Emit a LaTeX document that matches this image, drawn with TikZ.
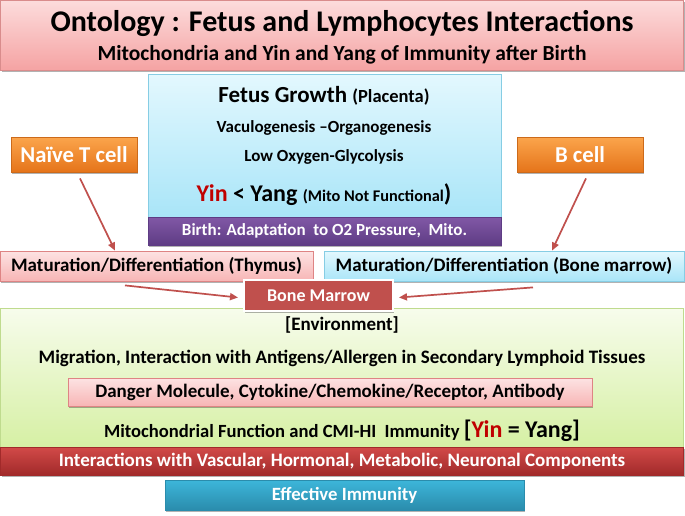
\documentclass[tikz,border=0pt]{standalone}
\usepackage{fontspec}
\setmainfont{Carlito}
\usetikzlibrary{arrows.meta,shadows}
\definecolor{titletop}{HTML}{FCDCDC}
\definecolor{titlebot}{HTML}{F5A3A3}
\definecolor{titleedge}{HTML}{D98C8C}
\definecolor{bluetop}{HTML}{E3F8FE}
\definecolor{bluebot}{HTML}{A9E5F8}
\definecolor{blueedge}{HTML}{86CDE4}
\definecolor{purtop}{HTML}{8158A6}
\definecolor{purbot}{HTML}{5E3C84}
\definecolor{orgtop}{HTML}{FBA54C}
\definecolor{orgbot}{HTML}{E5741A}
\definecolor{orgedge}{HTML}{CC6A1A}
\definecolor{pinktop}{HTML}{FDE3E3}
\definecolor{pinkbot}{HTML}{F7B5B5}
\definecolor{pinkedge}{HTML}{DE8484}
\definecolor{bmred}{HTML}{C0504D}
\definecolor{greentop}{HTML}{F7FCEC}
\definecolor{greenbot}{HTML}{D6F0A4}
\definecolor{greenedge}{HTML}{BFDB8E}
\definecolor{redtop}{HTML}{D24A48}
\definecolor{redbot}{HTML}{A12A2A}
\definecolor{effTop}{HTML}{3DB6DA}
\definecolor{effBot}{HTML}{2A8CAC}
\definecolor{yinred}{HTML}{C00000}
\definecolor{arrowred}{HTML}{C0504D}
\newcommand{\fsz}[1]{\fontsize{#1}{#1}\selectfont}
\begin{document}
\begin{tikzpicture}[x=1pt,y=-1pt,
  boxbase/.style={draw, line width=0.8pt, inner sep=0pt, font=\bfseries},
  shad/.style={drop shadow={shadow xshift=1.2pt, shadow yshift=-1.5pt, opacity=0.3, fill=black}},
  txt/.style={inner sep=0pt, font=\bfseries},
  flow/.style={draw=arrowred, line width=1.7pt, -{Triangle[length=8pt,width=7pt]}}
]
\useasboundingbox (0,0) rectangle (685,515);
\fill[white] (0,0) rectangle (685,515);

% title
\node[boxbase, shad, draw=titleedge, top color=titletop, bottom color=titlebot,
  minimum width=683pt, minimum height=70pt] (title) at (342,35) {};
\node[txt] (t1) at (342,23) {\fsz{30}Ontology : Fetus and Lymphocytes Interactions};
\node[txt] (t2) at (342,55) {\fsz{21.5}Mitochondria and Yin and Yang of Immunity after Birth};

% fetus box
\node[boxbase, shad, draw=blueedge, top color=bluetop, bottom color=bluebot,
  minimum width=353pt, minimum height=143pt] (fetus) at (324.5,145.5) {};
\node[boxbase, shad, draw=purbot, top color=purtop, bottom color=purbot,
  minimum width=353pt, minimum height=28pt, text=white] (birth) at (324.5,231)
  {\fsz{17}Birth: Adaptation\ \ to O2 Pressure,\ \ Mito.};
\node[txt] (fg) at (324,96) {\fsz{23}Fetus Growth \fsz{18.5}(Placenta)};
\node[txt] (vo) at (324,128) {\fsz{17}Vaculogenesis –Organogenesis};
\node[txt] (lo) at (324,157) {\fsz{17}Low Oxygen-Glycolysis};
\node[txt] (yy) at (324,195) {\fsz{24}\textcolor{yinred}{Yin} < Yang \fsz{16.3}(Mito Not Functional\fsz{24})};

% cells
\node[boxbase, shad, draw=orgedge, top color=orgtop, bottom color=orgbot,
  minimum width=126pt, minimum height=35pt, text=white] (tcell) at (74,154.5) {\fsz{22.7}Naïve T cell};
\node[boxbase, shad, draw=orgedge, top color=orgtop, bottom color=orgbot,
  minimum width=126pt, minimum height=35pt, text=white] (bcell) at (580,154.5) {\fsz{22.7}B cell};

% maturation
\node[boxbase, shad, draw=pinkedge, top color=pinktop, bottom color=pinkbot,
  minimum width=313pt, minimum height=30pt] (thy) at (156.5,266) {\fsz{19}Maturation/Differentiation (Thymus)};
\node[boxbase, shad, draw=blueedge, top color=bluetop, bottom color=bluebot,
  minimum width=360pt, minimum height=30pt] (mbm) at (504,266) {\fsz{19}Maturation/Differentiation (Bone marrow)};

% environment
\node[boxbase, draw=greenedge, top color=greentop, bottom color=greenbot,
  minimum width=683pt, minimum height=139pt] (env) at (342,377.5) {};
\node[txt] (en) at (342,325) {\fsz{19}[Environment]};
\node[txt] (mi) at (342,358) {\fsz{19}Migration, Interaction with Antigens/Allergen in Secondary Lymphoid Tissues};
\node[boxbase, shad, draw=pinkedge, top color=pinktop, bottom color=pinkbot,
  minimum width=524pt, minimum height=28pt] (dng) at (330,392) {\fsz{19}Danger Molecule, Cytokine/Chemokine/Receptor, Antibody};
\node[txt] (mf) at (342,431) {\fsz{18.6}Mitochondrial Function and CMI-HI\ \ Immunity \fsz{24}[\textcolor{yinred}{Yin} = Yang]};

% bone marrow
\node[boxbase, draw=white, line width=2pt, fill=bmred, text=white, shad,
  minimum width=149pt, minimum height=31pt] (bm) at (318.5,295.5) {\fsz{18}Bone Marrow};

% bottom bars
\node[boxbase, shad, draw=redbot, top color=redtop, bottom color=redbot, text=white,
  minimum width=683pt, minimum height=28pt] (ivh) at (342,461) {\fsz{19}Interactions with Vascular, Hormonal, Metabolic, Neuronal Components};
\node[boxbase, shad, draw=effBot, top color=effTop, bottom color=effBot, text=white,
  minimum width=359pt, minimum height=30pt] (eff) at (344.5,495) {\fsz{18.7}Effective Immunity};

% arrows
\draw[flow] ([yshift=-6pt]tcell.south -| 80,0) -- (thy.north -| 115,0);
\draw[flow] ([yshift=-6pt]bcell.south -| 586,0) -- (mbm.north -| 552,0);
\draw[flow] ([yshift=-4pt]thy.south -| 125,0) -- ([xshift=-5pt,yshift=-2pt]bm.west);
\draw[flow] ([yshift=-6pt]mbm.south -| 533,0) -- ([xshift=5pt,yshift=-2pt]bm.east);
\end{tikzpicture}
\end{document}
